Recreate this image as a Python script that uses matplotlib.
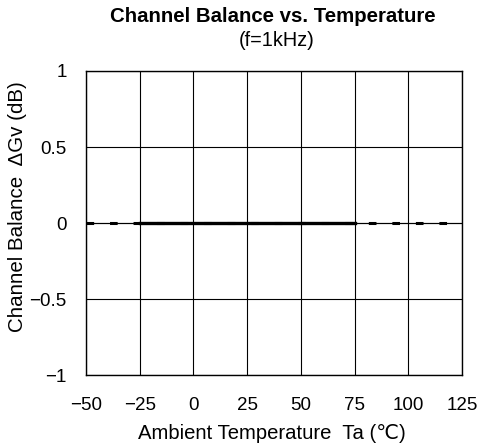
import matplotlib.pyplot as plt

plt.rcParams.update({
    "font.family": ["Liberation Sans", "DejaVu Sans"],
    "font.size": 13,
})

# Data
temp_full = [-50, 125]
balance_full = [0, 0]
temp_spec = [-25, 75]
balance_spec = [0, 0]

x_ticks = [-50, -25, 0, 25, 50, 75, 100, 125]
y_ticks = [-1, -0.5, 0, 0.5, 1]
y_tick_labels = ["\u22121", "\u22120.5", "0", "0.5", "1"]
x_tick_labels = ["\u221250", "\u221225", "0", "25", "50", "75", "100", "125"]

fig = plt.figure(figsize=(4.79, 4.48), dpi=100)
ax = fig.add_axes([86 / 479, 73 / 448, 376 / 479, 304 / 448])

# thin base line plus thick dashes
ax.plot(temp_full, balance_full, color="black", linewidth=0.8)
ax.plot(temp_full, balance_full, color="black", linewidth=2.2,
        dashes=(2.5, 5.2), dash_capstyle="butt")
ax.plot(temp_spec, balance_spec, color="black", linewidth=2.4)

ax.set_xlim(-50, 125)
ax.set_ylim(-1, 1)
ax.set_xticks(x_ticks)
ax.set_xticklabels(x_tick_labels)
ax.set_yticks(y_ticks)
ax.set_yticklabels(y_tick_labels)
ax.tick_params(length=0, labelsize=13.5)
ax.tick_params(axis="x", pad=16)
ax.tick_params(axis="y", pad=14)
ax.grid(True, color="black", linewidth=0.8)
for s in ax.spines.values():
    s.set_linewidth(1.0)

fig.text(273 / 479, 1 - 17 / 448, "Channel Balance vs. Temperature", ha="center",
         va="center", fontsize=14.7, fontweight="bold")
fig.text(277 / 479, 1 - 40 / 448, "(f=1kHz)", ha="center", va="center", fontsize=14.3)
ax.set_xlabel("Ambient Temperature  Ta (\u2103)", fontsize=14.6)
ax.xaxis.set_label_coords(0.495, -0.16)
ax.set_ylabel("Channel Balance  \u0394Gv (dB)", fontsize=14.8)
ax.yaxis.set_label_coords(-0.157, 0.553)

plt.savefig("out.png", dpi=100)
